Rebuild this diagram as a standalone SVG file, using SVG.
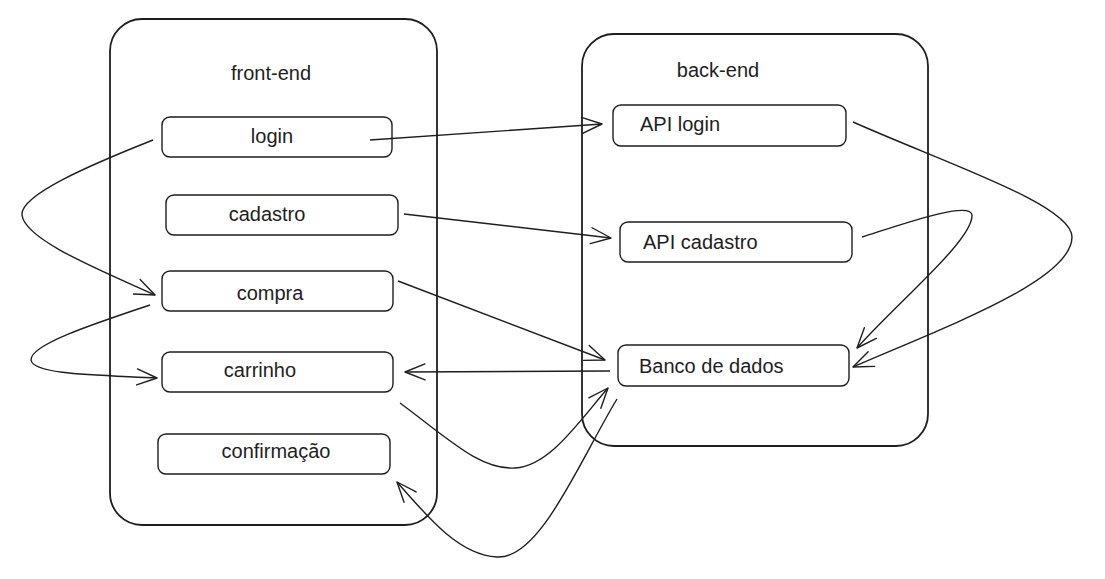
<svg xmlns="http://www.w3.org/2000/svg" width="1105" height="579" viewBox="0 0 1105 579">
<style>
.container{fill:none;stroke:#1e1e1e;stroke-width:1.8}
.node rect{fill:none;stroke:#1e1e1e;stroke-width:1.4}
text{font-family:"Liberation Sans",Arial,sans-serif;font-size:20px;fill:#1e1e1e}
.edge{fill:none;stroke:#1e1e1e;stroke-width:1.4;marker-end:url(#arr)}
</style>
<defs>
<marker id="arr" markerUnits="userSpaceOnUse" markerWidth="30" markerHeight="30" refX="0" refY="0" viewBox="-25 -15 30 30" orient="auto" overflow="visible">
<path d="M-20,-8 L0,0 L-20,8" fill="none" stroke="#1e1e1e" stroke-width="1.4" stroke-linecap="round" stroke-linejoin="round"/>
</marker>
</defs>
<rect width="1105" height="579" fill="#ffffff"/>
<g id="front-end">
<rect class="container" x="110" y="19" width="327" height="506" rx="32"/>
<text x="271" y="80" text-anchor="middle">front-end</text>
</g>
<g id="back-end">
<rect class="container" x="582" y="34" width="346" height="412" rx="32"/>
<text x="718" y="77" text-anchor="middle">back-end</text>
</g>
<g id="login" class="node"><rect x="162" y="117" width="230" height="40" rx="8"/><text x="272" y="143" text-anchor="middle">login</text></g>
<g id="cadastro" class="node"><rect x="166" y="195" width="232" height="40" rx="8"/><text x="267" y="221" text-anchor="middle">cadastro</text></g>
<g id="compra" class="node"><rect x="162" y="271" width="231" height="40" rx="8"/><text x="270" y="300" text-anchor="middle">compra</text></g>
<g id="carrinho" class="node"><rect x="162" y="352" width="231" height="40" rx="8"/><text x="260" y="377" text-anchor="middle">carrinho</text></g>
<g id="confirmacao" class="node"><rect x="158" y="434" width="232" height="40" rx="8"/><text x="276" y="458" text-anchor="middle">confirmação</text></g>
<g id="api-login" class="node"><rect x="613" y="105" width="233" height="41" rx="8"/><text x="640" y="131">API login</text></g>
<g id="api-cadastro" class="node"><rect x="620" y="222" width="232" height="40" rx="8"/><text x="643" y="249">API cadastro</text></g>
<g id="banco" class="node"><rect x="618" y="345" width="231" height="41" rx="8"/><text x="639" y="373">Banco de dados</text></g>
<g id="connectors">
<path class="edge" d="M370,140 L602,124"/>
<path class="edge" d="M404,214 L611,238"/>
<path class="edge" d="M398,281 L605,360"/>
<path class="edge" d="M610,371 L405,372"/>
<path class="edge" d="M153,140 C90,165 20,195 22,215 C25,240 100,270 155,295"/>
<path class="edge" d="M150,305 C90,325 30,345 31,360 C33,375 100,375 157,378"/>
<path class="edge" d="M400,403 C450,440 480,470 515,468 C550,466 580,420 608,388"/>
<path class="edge" d="M617,399 C580,460 540,560 497,557 C460,555 430,520 397,482"/>
<path class="edge" d="M853,122 C950,165 1072,205 1072,237 C1072,280 950,325 853,367"/>
<path class="edge" d="M862,237 C900,225 970,200 972,215 C973,240 900,300 857,348"/>
</g>
</svg>
